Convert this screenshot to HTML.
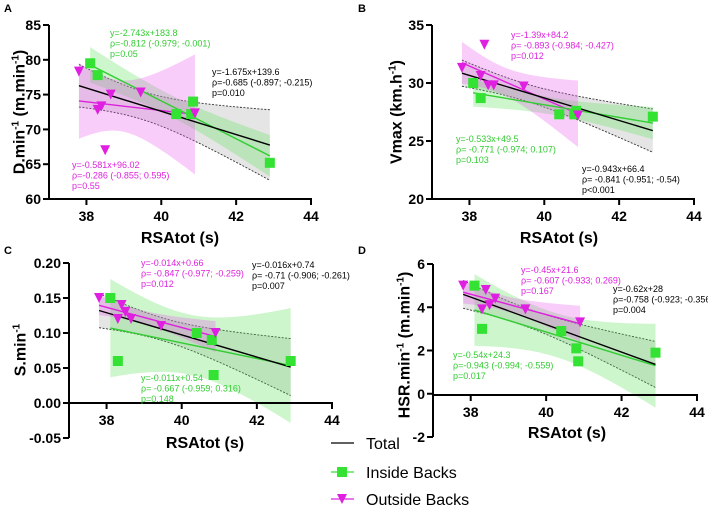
<!DOCTYPE html>
<html><head><meta charset="utf-8"><style>
body{margin:0;background:#fff;}
svg{display:block;font-family:"Liberation Sans",Arial,sans-serif;}
</style></head><body>
<svg id="c" width="708" height="511" viewBox="0 0 708 511"></svg>
<script>
const insideX=[38.1,38.3,40.4,40.8,40.85,42.9];
const outsideX=[37.8,38.3,38.4,38.5,38.65,39.45,40.9];
const insideA=[79.5,77.8,72.2,72.2,74,65.2];
const outsideA=[78.3,72.8,73.3,67,75,75.3,72.3];
const insideB=[30,28.7,27.3,27.3,27.6,27.1];
const outsideB=[31.3,30.6,33.3,29.8,29.8,29.7,27.2];
const insideC=[0.15,0.06,0.10,0.09,0.04,0.06];
const outsideC=[0.15,0.12,0.14,0.13,0.12,0.11,0.10];
const insideD=[5,3,2.9,2.1,1.5,1.9];
const outsideD=[5,3.9,4.8,4.1,4.4,3.9,3.3];
const xTicks=[38,40,42,44];
const yTicksA=[60,65,70,75,80,85];
const yTicksB=[20,25,30,35];
const yTicksC=[-0.05,0,0.05,0.10,0.15,0.20];
const yTicksD=[-2,0,2,4,6];

const NS="http://www.w3.org/2000/svg";
const svg=document.getElementById('c');
function el(tag,attrs,parent,txt){const e=document.createElementNS(NS,tag);for(const k in attrs)e.setAttribute(k,attrs[k]);if(txt!==undefined)e.textContent=txt;(parent||svg).appendChild(e);return e;}
function tcrit(n){return {4:2.776,5:2.571,11:2.201}[n-2]||2.2;}
function fit(xs,ys){const n=xs.length;const mx=xs.reduce((a,b)=>a+b)/n,my=ys.reduce((a,b)=>a+b)/n;let sxx=0,sxy=0;xs.forEach((x,i)=>{sxx+=(x-mx)**2;sxy+=(x-mx)*(ys[i]-my);});const b=sxy/sxx,a=my-b*mx;let sse=0;xs.forEach((x,i)=>{sse+=(ys[i]-a-b*x)**2;});const s=Math.sqrt(sse/(n-2));return{a,b,mx,sxx,s,n,t:tcrit(n)};}
function ci(f,x){return f.t*f.s*Math.sqrt(1/f.n+(x-f.mx)**2/f.sxx);}

const panels=[
 {id:'a',letter:'A',lx:4,ly:12,x0:49,x1:311,yTop:25,yBot:199,ymin:60,ymax:85,xAxisY:199,yt:yTicksA,ins:insideA,out:outsideA,fmt:v=>v,
  title:'D.min',titleSuffix:' (m.min',titleEnd:')',tx:19,ty:112,xtx:180,xty:243,
  ann:[{c:'#33cc33',x:110,y:36,l:['y=-2.743x+183.8','ρ=-0.812 (-0.979; -0.001)','p=0.05']},{c:'#000',x:212,y:75,l:['y=-1.675x+139.6','ρ=-0.685 (-0.897; -0.215)','p=0.010']},{c:'#dd22dd',x:72,y:168,l:['y=-0.581x+96.02','ρ=-0.286 (-0.855; 0.595)','p=0.55']}]},
 {id:'b',letter:'B',lx:358,ly:12,x0:432,x1:694,yTop:25,yBot:199,ymin:20,ymax:35,xAxisY:199,yt:yTicksB,ins:insideB,out:outsideB,fmt:v=>v,
  title:'Vmax (km.h',titleSuffix:'',titleEnd:')',tx:396,ty:112,xtx:559,xty:243,
  ann:[{c:'#dd22dd',x:511,y:38,l:['y=-1.39x+84.2','ρ= -0.893  (-0.984; -0.427)','p=0.012']},{c:'#33cc33',x:456,y:142,l:['y=-0.533x+49.5','ρ= -0.771 (-0.974; 0.107)','p=0.103']},{c:'#000',x:582,y:172,l:['y=-0.943x+66.4','ρ= -0.841 (-0.951; -0.54)','p<0.001']}]},
 {id:'c',letter:'C',lx:4,ly:254,x0:69,x1:332,yTop:263,yBot:438,ymin:-0.05,ymax:0.20,xAxisY:403,yt:yTicksC,ins:insideC,out:outsideC,fmt:v=>v.toFixed(2),
  title:'S.min',titleSuffix:'',titleEnd:'',tx:20,ty:350,xtx:205,xty:448,
  ann:[{c:'#dd22dd',x:141,y:266,l:['y=-0.014x+0.66','ρ= -0.847 (-0.977; -0.259)','p=0.012']},{c:'#000',x:252,y:268,l:['y=-0.016x+0.74','ρ= -0.71 (-0.906; -0.261)','p=0.007']},{c:'#33cc33',x:141,y:381,l:['y=-0.011x+0.54','ρ= -0.667 (-0.959; 0.316)','p=0.148']}]},
 {id:'d',letter:'D',lx:358,ly:254,x0:433,x1:697,yTop:264,yBot:437,ymin:-2,ymax:6,xAxisY:395,yt:yTicksD,ins:insideD,out:outsideD,fmt:v=>v,
  title:'HSR.min',titleSuffix:' (m.min',titleEnd:')',tx:404,ty:345,xtx:567,xty:438,
  ann:[{c:'#dd22dd',x:521,y:273,l:['y=-0.45x+21.6','ρ= -0.607 (-0.933; 0.269)','p=0.167']},{c:'#000',x:613,y:292,l:['y=-0.62x+28','ρ=-0.758 (-0.923; -0.356)','p=0.004']},{c:'#33cc33',x:453,y:358,l:['y=-0.54x+24.3','ρ=-0.943 (-0.994; -0.559)','p=0.017']}]}
];

panels.forEach(p=>{
 const g=el('g',{});
 
 
 const sx=x=>p.x0+(x-37)/(44-37)*(p.x1-p.x0);
 const sy=y=>p.yBot-(y-p.ymin)/(p.ymax-p.ymin)*(p.yBot-p.yTop);
 const lt=el('text',{x:p.lx,y:p.ly,'font-size':11,'font-weight':'bold'},g,p.letter);
 
 
 const allX=insideX.concat(outsideX),allY=p.ins.concat(p.out);
 const groups=[
  {name:'total',xs:allX,ys:allY,fill:'rgba(0,0,0,0.10)',line:'#000',dotted:true},
  {name:'inside',xs:insideX,ys:p.ins,fill:'rgba(90,225,90,0.30)',line:'#33cc33'},
  {name:'outside',xs:outsideX,ys:p.out,fill:'rgba(235,90,235,0.30)',line:'#dd22dd'}];
 groups.forEach(G=>{
  const f=fit(G.xs,G.ys);const lo=Math.min(...G.xs),hi=Math.max(...G.xs);
  const up=[],dn=[];
  for(let i=0;i<=40;i++){const x=lo+(hi-lo)*i/40;const yh=f.a+f.b*x,c=ci(f,x);up.push(sx(x)+','+sy(yh+c));dn.push(sx(x)+','+sy(yh-c));}
  const band=el('polygon',{points:up.concat(dn.slice().reverse()).join(' '),fill:G.fill,stroke:'none'},g);
  
  
  if(G.dotted){
   const u=el('polyline',{points:up.join(' '),fill:'none',stroke:'#333','stroke-width':0.9,'stroke-dasharray':'2,1.5'},g);
   
   
   const d=el('polyline',{points:dn.join(' '),fill:'none',stroke:'#333','stroke-width':0.9,'stroke-dasharray':'2,1.5'},g);
   
   
  }
  G.f=f;G.lo=lo;G.hi=hi;
 });
 groups.slice().reverse().forEach(G=>{
  const ln=el('line',{x1:sx(G.lo),y1:sy(G.f.a+G.f.b*G.lo),x2:sx(G.hi),y2:sy(G.f.a+G.f.b*G.hi),stroke:G.line,'stroke-width':1.4},g);
  
  
 });
 insideX.forEach((x,i)=>{
  const r=el('rect',{x:sx(x)-5,y:sy(p.ins[i])-5,width:10,height:10,fill:'#33e233'},g);
  
  
 });
 outsideX.forEach((x,i)=>{
  const X=sx(x),Y=sy(p.out[i]);
  const t=el('polygon',{points:`${X-5},${Y-5} ${X+5},${Y-5} ${X},${Y+5}`,fill:'#e020e0'},g);
  
  
 });
 const ya=el('line',{x1:p.x0,y1:p.yTop,x2:p.x0,y2:p.yBot,stroke:'#000','stroke-width':2},g);
 
 
 const xa=el('line',{x1:p.x0,y1:p.xAxisY,x2:p.x1+1,y2:p.xAxisY,stroke:'#000','stroke-width':2},g);
 
 
 p.yt.forEach(v=>{
  const Y=sy(v);
  el('line',{x1:p.x0-6,y1:Y,x2:p.x0,y2:Y,stroke:'#000','stroke-width':2},g);
  const t=el('text',{x:p.x0-8,y:Y+5,'font-size':14,'font-weight':'bold','text-anchor':'end'},g,p.fmt(v));
  
  
 });
 xTicks.forEach(v=>{
  const X=sx(v);
  el('line',{x1:X,y1:p.xAxisY,x2:X,y2:p.xAxisY+6,stroke:'#000','stroke-width':2},g);
  const t=el('text',{x:X,y:p.xAxisY+22,'font-size':14,'font-weight':'bold','text-anchor':'middle'},g,v);
  
  
 });
 const xt=el('text',{x:p.xtx,y:p.xty,'font-size':16,'font-weight':'bold','text-anchor':'middle'},g,'RSAtot (s)');
 
 
 const yt=el('text',{x:p.tx,y:p.ty,'font-size':16,'font-weight':'bold','text-anchor':'middle',transform:`rotate(-90 ${p.tx} ${p.ty})`,dy:'0.35em'},g);
 
 
 el('tspan',{},yt,p.title);
 el('tspan',{'font-size':10,dy:-6},yt,'-1');
 if(p.titleSuffix){el('tspan',{dy:6},yt,p.titleSuffix);el('tspan',{'font-size':10,dy:-6},yt,'-1');el('tspan',{dy:6},yt,p.titleEnd);}
 else if(p.titleEnd){el('tspan',{dy:6},yt,p.titleEnd);}
 p.ann.forEach(a=>{
  const t=el('text',{x:a.x,y:a.y,'font-size':9,fill:a.c},g);
  
  
  a.l.forEach((s,i)=>el('tspan',{x:a.x,dy:i?10.5:0},t,s));
 });
});

const lg=el('g',{});


const items=[{n:'Total',y:443,c:'#000'},{n:'Inside Backs',y:472,c:'#33e233',m:'sq'},{n:'Outside Backs',y:499,c:'#e020e0',m:'tri'}];
items.forEach(it=>{
 const e=el('g',{},lg);
 
 
 el('line',{x1:331,y1:it.y,x2:354,y2:it.y,stroke:it.c,'stroke-width':1.3},e);
 if(it.m==='sq')el('rect',{x:337,y:it.y-5,width:10,height:10,fill:it.c},e);
 if(it.m==='tri')el('polygon',{points:`337,${it.y-5} 347,${it.y-5} 342,${it.y+5}`,fill:it.c},e);
 el('text',{x:366,y:it.y+6,'font-size':16},e,it.n);
});
</script>
</body></html>
